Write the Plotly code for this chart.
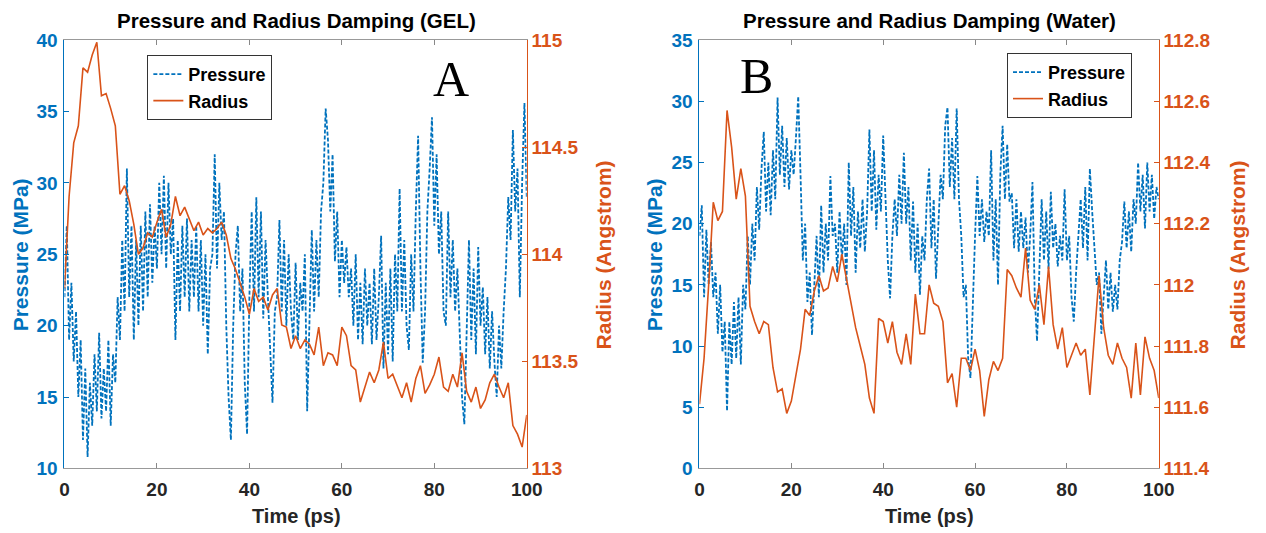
import numpy as np
import plotly.graph_objects as go

# ---------------- data ----------------
t_p = [i * 0.5 for i in range(201)]   # pressure sampled every 0.5 ps
t_r = list(range(101))                # radius sampled every 1 ps

gel_pressure = [
    22,27,19,23,17.5,21,15,19,12,17,10.8,16,13,18,14,19.5,13.5,17,14,19,
    13,18,16,22,19,26,21,31,22,27,19,26,20,27,21,28,22,28.5,23,27,
    24,30,25,30.5,24,30,25,27.5,19,26,21,27,22,27.5,21,26,22,27,21,26,
    20,25,18,24,25,32,24,30,26,28,20,15,12,20,25,27,21,24,16,12.4,
    22,28,21,29,22,28,20.5,26,22,18,14.6,21,22,27.4,21,26,20,25,21,19,
    24.4,19,23,21,25,14,21,26.7,21,26,22,28,30,35.2,33,28,32,24.5,28,22,
    26,23,25.5,22,24,20,25,19,23,18.7,24,20,23,18.7,24,19,22,26.3,17,23,
    18,24,17.5,25,21,29.6,21,26,20,18.3,25,21,28,33.3,24,17.4,21,28,31,34.6,
    27,32,25,28,21,20,28,22,26,21,24,19,15,13.1,20,26,19,24,18,25.5,
    20,22.7,18,22,17,21,17.5,15,20,17,21,24,29,26,33.7,28,31,22,30,35.6,
    29,
]

gel_radius = [
    113.84,114.27,114.52,114.60,114.87,114.85,114.93,114.99,114.74,114.75,
    114.68,114.60,114.28,114.32,114.25,114.14,114.00,114.03,114.10,114.08,
    114.15,114.21,114.08,114.14,114.27,114.18,114.22,114.16,114.11,114.15,
    114.09,114.12,114.10,114.12,114.15,114.09,113.98,113.93,113.87,113.80,
    113.72,113.84,113.78,113.80,113.74,113.81,113.84,113.67,113.66,113.56,
    113.62,113.56,113.60,113.58,113.53,113.66,113.48,113.54,113.53,113.48,
    113.66,113.62,113.48,113.46,113.31,113.38,113.45,113.40,113.46,113.59,
    113.42,113.44,113.38,113.33,113.40,113.31,113.42,113.48,113.35,113.39,
    113.44,113.52,113.38,113.36,113.44,113.38,113.54,113.36,113.31,113.38,
    113.28,113.32,113.40,113.44,113.38,113.33,113.40,113.20,113.16,113.10,
    113.25,
]

water_pressure = [
    19,21.5,14,19.5,15,18.5,14,16,11,15,9.5,12,4.7,12,8.5,13.6,9,14,8.5,15,
    13,19,15,20,17,23,19.5,24.5,27.5,21,25,20.7,26,22,30.3,24,28,23,27,22.8,
    26,24,27,30.4,24,17,20,13.6,16,10.9,15,19,14,21.5,16,20,17,23.9,19,20,
    16,21,17,20,15,25,19,23,16,21,18,22,17.7,21,27.7,21,26,19.5,24,21,
    27.2,21.8,17,13.9,19,22,19,24,20,25.8,20,23,17,21.8,16,20,14.2,19,17,22,
    24.5,18,22,15.5,20,24,22,28,29.5,23,27,22,29.4,22,19,14,15,9,7.4,14,
    19,23.9,19,22,18.5,21,19,26,17,22,15,24,28,22,26.5,21.8,22.5,18,22,17.7,
    21,18,20.5,16,19,23.4,14,10.4,16,22,17,21,16.3,22.6,18,20,16.5,19,17,22.8,
    17,19,14,12,16,19,22,18,23,17,24.5,21,18,15,16,11,14,17,13,16,
    12.8,15,13,17,18.5,21.8,18,21,17.7,22,20,25,21,24,19.6,25,21,24,20.4,23,
    22,
]

water_radius = [
    111.61,111.76,112.00,112.27,112.21,112.24,112.57,112.45,112.28,112.38,
    112.29,111.93,111.88,111.84,111.88,111.87,111.73,111.65,111.66,111.58,
    111.62,111.71,111.79,111.92,111.90,111.98,112.03,111.98,111.99,112.06,
    112.01,112.10,112.02,111.93,111.86,111.80,111.74,111.63,111.58,111.89,
    111.88,111.81,111.88,111.78,111.74,111.84,111.74,111.97,111.84,111.84,
    112.00,111.94,111.93,111.88,111.68,111.71,111.60,111.76,111.76,111.72,
    111.79,111.72,111.57,111.69,111.75,111.72,111.76,112.05,112.03,111.99,
    111.96,112.12,111.95,111.92,112.00,111.87,112.06,111.87,111.79,111.86,
    111.73,111.77,111.81,111.77,111.79,111.64,111.84,112.03,111.86,111.77,
    111.74,111.81,111.76,111.73,111.63,111.81,111.64,111.83,111.76,111.72,
    111.63,
]

x_ticks = [0, 20, 40, 60, 80, 100]
gel_p_ticks = [10, 15, 20, 25, 30, 35, 40]
gel_r_ticks = [113, 113.5, 114, 114.5, 115]
water_p_ticks = [0, 5, 10, 15, 20, 25, 30, 35]
water_r_ticks = [111.4, 111.6, 111.8, 112, 112.2, 112.4, 112.6, 112.8]

# ---------------- style ----------------
BLUE = "#0072BD"
ORANGE = "#D95319"
GRAY = "#262626"
FONT = "Liberation Sans"
W, H = 1270, 540
# placement correction (measured from previous renders)
SX, SY, BX, BY = 0.985, 0.967, 4.5, 8.0

def px_x(x):
    return (x / SX - BX) / W

def px_y(y):
    return 1 - (y / SY - BY) / H

top, bot = 38, 469
dA = [px_x(64), px_x(527)]
dB = [px_x(700), px_x(1160)]
ydom = [px_y(bot), px_y(top)]

fig = go.Figure()

fig.add_trace(go.Scatter(x=t_p, y=gel_pressure, mode="lines", name="Pressure",
                         line=dict(color=BLUE, width=1.8, dash="4px,2px"),
                         xaxis="x", yaxis="y", legend="legend"))
fig.add_trace(go.Scatter(x=t_r, y=gel_radius, mode="lines", name="Radius",
                         line=dict(color=ORANGE, width=1.6),
                         xaxis="x", yaxis="y2", legend="legend"))
fig.add_trace(go.Scatter(x=t_p, y=water_pressure, mode="lines", name="Pressure",
                         line=dict(color=BLUE, width=1.8, dash="4px,2px"),
                         xaxis="x2", yaxis="y3", legend="legend2"))
fig.add_trace(go.Scatter(x=t_r, y=water_radius, mode="lines", name="Radius",
                         line=dict(color=ORANGE, width=1.6),
                         xaxis="x2", yaxis="y4", legend="legend2"))

TS = 19
tickfont_dark = dict(family=FONT, size=TS, color=GRAY, weight="bold")
tickfont_blue = dict(family=FONT, size=TS, color=BLUE, weight="bold")
tickfont_orange = dict(family=FONT, size=TS, color=ORANGE, weight="bold")

def xaxis(domain, anchor):
    return dict(domain=domain, anchor=anchor, range=[0, 100], tickvals=x_ticks,
                ticks="inside", ticklen=5, tickcolor="#888", showline=True,
                linecolor="#999", linewidth=1, mirror="ticks", showgrid=False,
                zeroline=False, tickfont=tickfont_dark, ticklabelstandoff=4)

def yleft(rng, ticks, anchor):
    return dict(domain=ydom, anchor=anchor, range=rng, tickvals=ticks,
                ticks="inside", ticklen=5, tickcolor=BLUE, showline=True,
                linecolor=BLUE, linewidth=1, showgrid=False, zeroline=False,
                tickfont=tickfont_blue, ticklabelstandoff=2)

def yright(rng, ticks, anchor, overlay):
    return dict(domain=ydom, anchor=anchor, overlaying=overlay, side="right",
                range=rng, tickvals=ticks, ticks="inside", ticklen=5,
                tickcolor=ORANGE, showline=True, linecolor=ORANGE, linewidth=1,
                showgrid=False, zeroline=False, tickfont=tickfont_orange)

legend_style = dict(bgcolor="white", bordercolor="#333", borderwidth=1,
                    font=dict(family=FONT, size=18, color="black", weight="bold"),
                    tracegroupgap=0, itemwidth=30)

fig.update_layout(
    width=W, height=H, margin=dict(l=0, r=0, t=0, b=0),
    paper_bgcolor="white", plot_bgcolor="white",
    xaxis=xaxis(dA, "y"),
    yaxis=yleft([10, 40], gel_p_ticks, "x"),
    yaxis2=yright([113, 115], gel_r_ticks, "x", "y"),
    xaxis2=xaxis(dB, "y3"),
    yaxis3=yleft([0, 35], water_p_ticks, "x2"),
    yaxis4=yright([111.4, 112.8], water_r_ticks, "x2", "y3"),
    legend=dict(x=px_x(147), y=px_y(53), xanchor="left", yanchor="top", **legend_style),
    legend2=dict(x=px_x(1008), y=px_y(51), xanchor="left", yanchor="top", **legend_style),
    showlegend=True,
)

ann = []
def text(x, y, s, size=16, color="black", angle=0, bold=True, family=FONT):
    ann.append(dict(x=px_x(x), y=px_y(y), xref="paper", yref="paper", text=s,
                    showarrow=False, textangle=angle, xanchor="center", yanchor="middle",
                    font=dict(family=family, size=size, color=color,
                              weight="bold" if bold else "normal")))

text(296, 18, "Pressure and Radius Damping (GEL)", size=20.5)
text(930, 18, "Pressure and Radius Damping (Water)", size=20.5)
text(296, 517, "Time (ps)", color=GRAY, size=20)
text(930, 517, "Time (ps)", color=GRAY, size=20)
text(20, 254, "Pressure (MPa)", color=BLUE, angle=-90, size=21)
text(604, 254, "Radius (Angstrom)", color=ORANGE, angle=-90, size=21)
text(655, 254, "Pressure (MPa)", color=BLUE, angle=-90, size=21)
text(1239, 254, "Radius (Angstrom)", color=ORANGE, angle=-90, size=21)
text(451, 77, "A", size=50, bold=False, family="Liberation Serif")
text(757, 74, "B", size=50, bold=False, family="Liberation Serif")

fig.update_layout(annotations=ann)

fig.write_html("out.html")
